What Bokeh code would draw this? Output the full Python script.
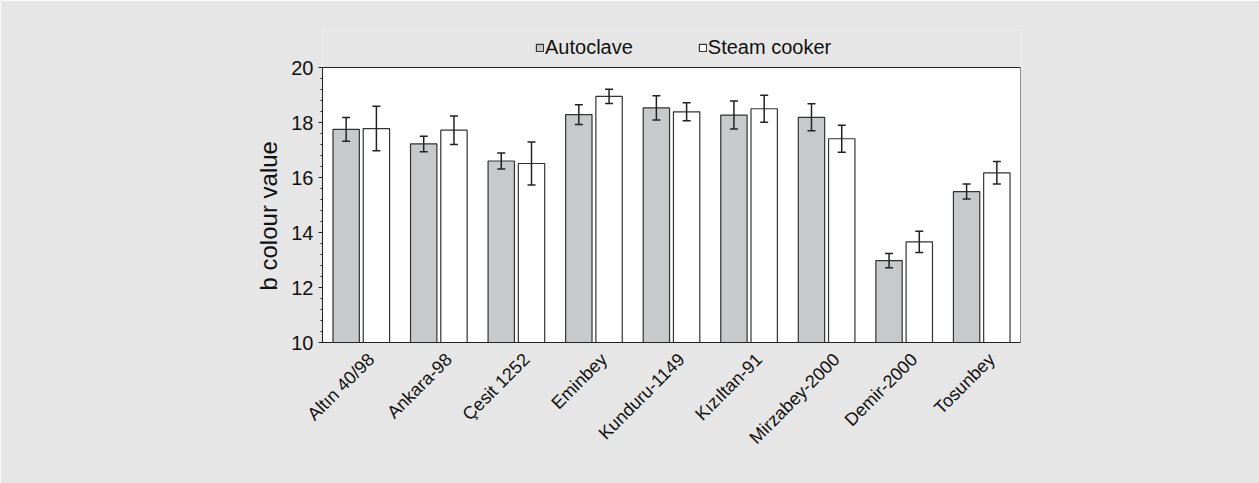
import numpy as np
from bokeh.plotting import figure
from bokeh.models import (ColumnDataSource, Range1d, FixedTicker, Whisker, Legend,
                          LegendItem, TeeHead, BoxAnnotation, Title)
from bokeh.embed import file_html
from bokeh.resources import INLINE

categories = ["Altın 40/98", "Ankara-98", "Çesit 1252", "Eminbey", "Kunduru-1149",
              "Kızıltan-91", "Mirzabey-2000", "Demir-2000", "Tosunbey"]
autoclave = [17.75, 17.22, 16.60, 18.29, 18.53, 18.27, 18.19, 12.98, 15.49]
autoclave_err = [0.43, 0.28, 0.29, 0.36, 0.44, 0.51, 0.49, 0.26, 0.27]
steam = [17.78, 17.72, 16.51, 18.95, 18.39, 18.50, 17.41, 13.66, 16.17]
steam_err = [0.81, 0.52, 0.78, 0.26, 0.33, 0.49, 0.49, 0.39, 0.41]
y_ticks = [10, 12, 14, 16, 18, 20]

FONT = "Liberation Sans"
BG = "#e5e6e5"
INK = "#111111"

n = len(categories)
centers = np.arange(n) + 0.5
off = 0.195
bw = 0.34
y_lo, y_hi = 10, 20
y_top = 20 + 37 / 27.5   # extra room above the plot box for the legend

src_a = ColumnDataSource(dict(
    x=centers - off, top=autoclave,
    upper=[v + e for v, e in zip(autoclave, autoclave_err)],
    lower=[v - e for v, e in zip(autoclave, autoclave_err)]))
src_s = ColumnDataSource(dict(
    x=centers + off, top=steam,
    upper=[v + e for v, e in zip(steam, steam_err)],
    lower=[v - e for v, e in zip(steam, steam_err)]))

p = figure(width=1259, height=483, output_backend="svg", toolbar_location=None,
           x_range=Range1d(0, n), y_range=Range1d(y_lo, y_top),
           min_border_left=322, min_border_right=239, min_border_top=30,
           min_border_bottom=141)
p.background_fill_color = BG
p.border_fill_color = BG
p.outline_line_color = None
p.grid.visible = False

# white plot box with frame
box = BoxAnnotation(left=0, right=n, bottom=y_lo, top=y_hi, level="underlay",
                    fill_color="white", fill_alpha=1, line_color="#222222",
                    line_width=1, line_alpha=1)
p.add_layout(box)

ra = p.vbar(x="x", top="top", bottom=y_lo, width=bw, source=src_a,
            fill_color="#c8c9cb", line_color="#333333", line_width=1.2)
rs = p.vbar(x="x", top="top", bottom=y_lo, width=bw, source=src_s,
            fill_color="white", line_color="#333333", line_width=1.2)

for src in (src_a, src_s):
    w = Whisker(source=src, base="x", upper="upper", lower="lower", level="overlay",
                line_color="#222222", line_width=1.5,
                upper_head=TeeHead(size=8, line_color="#222222", line_width=1.5),
                lower_head=TeeHead(size=8, line_color="#222222", line_width=1.5))
    p.add_layout(w)

# y axis
p.yaxis.bounds = (y_lo, y_hi)
p.yaxis.ticker = FixedTicker(ticks=y_ticks,
                             minor_ticks=[10 + 0.4 * k for k in range(26)])
p.yaxis.major_label_text_font = FONT
p.yaxis.major_label_text_font_size = "20px"
p.yaxis.major_label_text_color = INK
p.yaxis.major_tick_out = 4
p.yaxis.major_tick_in = 0
p.yaxis.minor_tick_out = 2
p.yaxis.minor_tick_in = 0
p.yaxis.axis_line_color = "#222222"
p.yaxis.major_tick_line_color = "#222222"
p.yaxis.minor_tick_line_color = "#222222"
p.yaxis.major_label_standoff = 5

ylab = Title(text="b colour value", align="left", offset=52,
             text_font=FONT, text_font_size="24px", text_font_style="normal",
             text_color=INK, standoff=14)
p.add_layout(ylab, "left")

# x axis (labels anchored slightly right of each group centre)
shift = 0.13
p.xaxis.ticker = FixedTicker(ticks=list(centers + shift))
p.xaxis.major_label_overrides = {float(c + shift): lab for c, lab in zip(centers, categories)}
p.xaxis.major_label_orientation = np.pi / 4
p.xaxis.major_label_text_font = FONT
p.xaxis.major_label_text_font_size = "18px"
p.xaxis.major_label_text_color = INK
p.xaxis.major_tick_line_color = None
p.xaxis.minor_tick_line_color = None
p.xaxis.axis_line_color = "#222222"
p.xaxis.major_label_standoff = 8

legend = Legend(items=[LegendItem(label="Autoclave", renderers=[ra]),
                       LegendItem(label="Steam cooker", renderers=[rs])],
                orientation="horizontal", location=(213, 283),
                glyph_width=9, glyph_height=9, label_standoff=1, spacing=65,
                padding=0, margin=0, border_line_color=None,
                background_fill_alpha=0, label_text_font=FONT,
                label_text_font_size="20px", label_text_color=INK,
                label_height=20)
p.add_layout(legend, "center")

open("out.html", "w").write(file_html(p, INLINE))
